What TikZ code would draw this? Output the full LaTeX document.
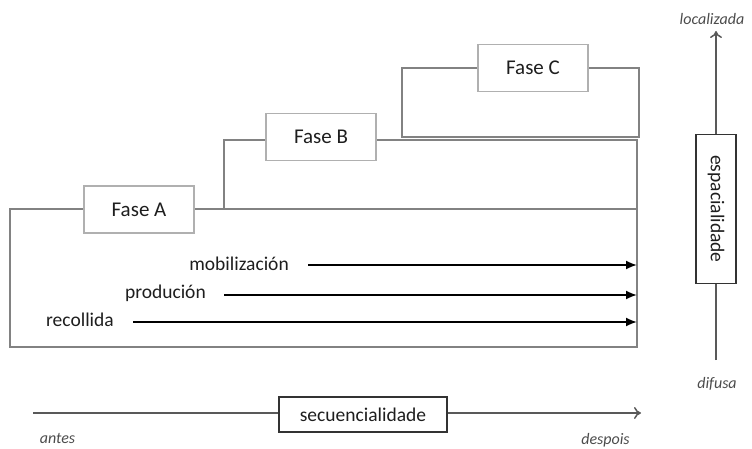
\documentclass[tikz,border=0pt]{standalone}
\usepackage{fontspec}
\setmainfont{Carlito}
\usepackage{xcolor}
\usetikzlibrary{arrows.meta,positioning}

\definecolor{linegray}{HTML}{828282}
\definecolor{boxgray}{HTML}{B0B0B0}
\definecolor{textdark}{HTML}{1E1E1E}

\tikzset{
	phaseline/.style={draw=linegray, line width=1.6pt},
	phasebox/.style={draw=boxgray, line width=1.6pt, fill=white, minimum width=110pt, minimum height=47pt, font=\fontsize{21}{25}\selectfont, text=textdark},
	flowlabel/.style={anchor=east, font=\fontsize{19.5}{23}\selectfont, text=textdark, inner sep=0pt},
	flowarrow/.style={-{Latex[length=11pt,width=9pt]}, line width=1.8pt, black},
	axisarrow/.style={-{To[length=7pt,width=12pt]}, line width=1.5pt, draw=black!65},
	axisbox/.style={draw=black!80, line width=1.5pt, fill=white, font=\fontsize{19.5}{23}\selectfont, text=textdark},
	axislabel/.style={font=\itshape\fontsize{16}{19}\selectfont, text=black!70}
}

\begin{document}
\begin{tikzpicture}[x=1pt, y=-1pt]
		\useasboundingbox (0,0) rectangle (752,449);
		% fases
		\draw[phaseline] (10,209) rectangle (637,347);
		\draw[phaseline] (224,209) -- (224,140) -- (637,140) -- (637,209);
		\draw[phaseline] (402,137) rectangle (639,68);
		\node[phasebox] (faseA) at (139,209.5) {Fase A};
		\node[phasebox] (faseB) at (321,137) {Fase B};
		\node[phasebox] (faseC) at (533,68) {Fase C};

		% fluxos
		\node[flowlabel] (mob) at (289,264) {mobilización};
		\node[flowlabel] (prod) at (206,293) {produción};
		\node[flowlabel] (rec) at (114,320) {recollida};
		\coordinate (mobEnd) at (637,265);
		\coordinate (prodEnd) at (637,295);
		\coordinate (recEnd) at (637,322);
		\draw[flowarrow] (mob.east) ++(19,1) -- (mobEnd);
		\draw[flowarrow] (prod.east) ++(18,2) -- (prodEnd);
		\draw[flowarrow] (rec.east) ++(19,2) -- (recEnd);

		% secuencialidade
		\coordinate (seqStart) at (33,413);
		\coordinate (seqEnd) at (641,413);
		\draw[axisarrow] (seqStart) -- (seqEnd);
		\node[axisbox, minimum width=168pt, minimum height=35pt] (seq) at (363,414.5) {secuencialidade};
		\node[axislabel] (antes) at (57.5,438) {antes};
		\node[axislabel] (despois) at (605.5,440) {despois};

		% espacialidade
		\coordinate (espStart) at (716,360);
		\coordinate (espEnd) at (716,31);
		\draw[axisarrow] (espStart) -- (espEnd);
		\node[axisbox, rotate=-90, minimum width=149pt, minimum height=40pt] (esp) at (716,209) {espacialidade};
		\node[axislabel] (loc) at (712,19) {localizada};
		\node[axislabel] (dif) at (717,384) {difusa};
	\end{tikzpicture}
\end{document}
